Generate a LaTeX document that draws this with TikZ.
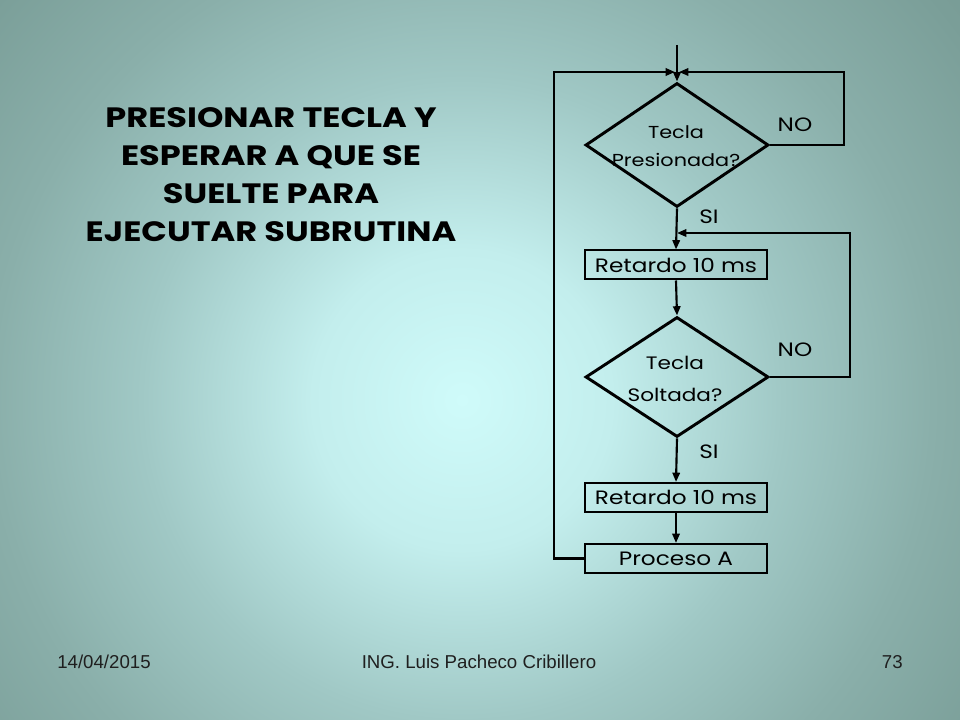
\documentclass[tikz,border=0pt]{standalone}
\usepackage{fontspec}
\setmainfont[FakeStretch=1.2]{Poppins}
\newfontfamily\footfont{Liberation Sans}
\usetikzlibrary{arrows.meta,shapes.geometric}
\definecolor{bgA}{RGB}{207,251,250}
\definecolor{bgB}{RGB}{195,238,237}
\definecolor{bgC}{RGB}{160,200,197}
\definecolor{bgD}{RGB}{138,175,170}
\definecolor{bgE}{RGB}{122,158,152}
\definecolor{bgF}{RGB}{118,153,147}
\pgfdeclareradialshading{slidebg}{\pgfpoint{0bp}{0bp}}{%
  color(0bp)=(bgA); color(5.35bp)=(bgB); color(11.45bp)=(bgC); color(16.8bp)=(bgD); color(22.15bp)=(bgE); color(25bp)=(bgF); color(50bp)=(bgF)}
\tikzset{
  dia/.style={diamond, draw=black, line width=2.2pt, inner sep=0pt},
  diatext/.style={align=center, inner sep=0pt, font=\fontsize{13}{21}\selectfont},
  procbox/.style={rectangle, draw=black, line width=1.5pt, inner sep=0pt,
    minimum width=136.5pt, minimum height=21.75pt, font=\fontsize{14.5}{18}\selectfont},
  conn/.style={draw=black, line width=1.6pt, -{Triangle[length=7pt,width=5.5pt]}},
  lbl/.style={font=\fontsize{14.5}{18}\selectfont, inner sep=0pt},
  foot/.style={font=\footfont\fontsize{14}{16}\selectfont, text=black!88, inner sep=0pt},
}
\begin{document}
\begin{tikzpicture}[x=0.75pt,y=-0.75pt]
\useasboundingbox (0,0) rectangle (960,720);
\begin{scope}
\clip (0,0) rectangle (960,720);
\shade[shading=slidebg] (462,400) circle[radius=700];
\end{scope}

% title
\node[font=\bfseries\fontsize{21}{28.5}\selectfont, align=center, inner sep=0pt] (title) at (271,175)
  {PRESIONAR TECLA Y\\ESPERAR A QUE SE\\SUELTE PARA\\EJECUTAR SUBRUTINA};

% flowchart nodes
\node[dia, minimum width=137.25pt, minimum height=93pt] (d1) at (677,145) {};
\node[diatext] (d1t) at (676,146) {Tecla\\Presionada?};
\node[procbox] (r1) at (676,265) {Retardo 10 ms};
\node[dia, minimum width=137.25pt, minimum height=90pt] (d2) at (677,377) {};
\node[diatext, font=\fontsize{13.5}{24}\selectfont] (d2t) at (675,379) {Tecla\\Soltada?};
\node[procbox] (r2) at (676,497.5) {Retardo 10 ms};
\node[procbox] (pa) at (676,558.5) {Proceso A};

\coordinate (start) at (677,45);
\coordinate (j1) at (677,72);
\coordinate (j2) at (677,233);

% connectors
\draw[conn] (start) -- (d1.north);
\draw[conn, line width=2.2pt, shorten >=1.5pt] (pa.west) -- ++(-30,0) |- (j1);
\draw[conn, shorten >=1.5pt] (d1.east) -- ++(74,0) |- (j1);
\draw[conn] (d1.south) -- (r1.north);
\draw[conn] (r1.south) -- (d2.north);
\draw[conn] (d2.east) -- ++(80,0) |- (j2);
\draw[conn] (d2.south) -- (r2.north);
\draw[conn] (r2.south) -- (pa.north);

% labels
\node[lbl] (no1) at (795,125) {NO};
\node[lbl] (si1) at (709,217) {SI};
\node[lbl] (no2) at (795,350) {NO};
\node[lbl] (si2) at (709,452) {SI};

% footer
\node[foot, anchor=west] (date) at (57,662) {14/04/2015};
\node[foot] (author) at (479,662) {ING. Luis Pacheco Cribillero};
\node[foot, anchor=east] (page) at (903,662) {73};
\end{tikzpicture}
\end{document}
